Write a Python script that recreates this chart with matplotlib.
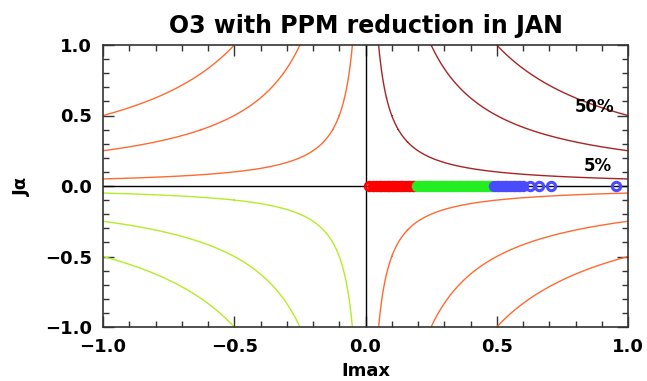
import numpy as np
import matplotlib
matplotlib.use("Agg")
import matplotlib.pyplot as plt
from matplotlib.ticker import MultipleLocator

title = "O3 with PPM reduction in JAN"
xlabel = "Imax"
ylabel = "J\u03b1"
levels = [0.05, 0.25, 0.5]
level_labels = ["5%", "50%"]
label_pos = [(0.886, 0.14), (0.874, 0.56)]

red_x = [0.012, 0.03, 0.04, 0.05, 0.06, 0.07, 0.08, 0.09, 0.10, 0.11, 0.12,
         0.13, 0.14, 0.15, 0.16, 0.17, 0.18, 0.185]
green_x = [0.195, 0.205, 0.215, 0.225, 0.235, 0.245, 0.255, 0.265, 0.275, 0.285,
           0.295, 0.305, 0.315, 0.325, 0.335, 0.345, 0.355, 0.365, 0.375, 0.385,
           0.395, 0.405, 0.415, 0.425, 0.435, 0.445, 0.455, 0.465, 0.475, 0.482]
blue_x = [0.49, 0.50, 0.51, 0.52, 0.53, 0.54, 0.55, 0.56, 0.57, 0.58, 0.59,
          0.60, 0.626, 0.66, 0.706, 0.954]

fig = plt.figure(figsize=(6.47, 3.81), dpi=100)
ax = fig.add_axes([103/647, 1-327/381, 525/647, 282/381])

g = np.linspace(-1, 1, 801)
X, Y = np.meshgrid(g, g)
Z = X * Y

def quad(mask):
    return np.ma.masked_where(~mask, Z)

neg = [-l for l in levels[::-1]]
ax.contour(X, Y, quad((X >= 0) & (Y >= 0)), levels=levels, colors="#a82424", linewidths=1.0, linestyles="solid")
ax.contour(X, Y, quad((X <= 0) & (Y >= 0)), levels=neg, colors="#ff6a30", linewidths=1.0, linestyles="solid")
ax.contour(X, Y, quad((X >= 0) & (Y <= 0)), levels=neg, colors="#ff6a30", linewidths=1.0, linestyles="solid")
ax.contour(X, Y, quad((X <= 0) & (Y <= 0)), levels=levels, colors="#b4ec28", linewidths=1.0, linestyles="solid")

ax.axhline(0, color="black", lw=1.0)
ax.axvline(0, color="black", lw=1.0)

for xs, c in [(red_x, "#ff0000"), (green_x, "#22ee22"), (blue_x, "#4a4aff")]:
    ax.plot(xs, [0]*len(xs), linestyle="none", marker="o", markersize=6.0,
            markerfacecolor="none", markeredgecolor=c, markeredgewidth=2.2)

for t, (px, py) in zip(level_labels, label_pos):
    ax.text(px, py, t, ha="center", va="center", fontsize=12, fontweight="bold", color="black")

ax.set_xlim(-1, 1)
ax.set_ylim(-1, 1)
ax.xaxis.set_major_locator(MultipleLocator(0.5))
ax.yaxis.set_major_locator(MultipleLocator(0.5))
ax.xaxis.set_minor_locator(MultipleLocator(0.1))
ax.yaxis.set_minor_locator(MultipleLocator(0.1))
fmt = plt.FuncFormatter(lambda v, p: f"{v:.1f}".replace("-", "\u2212"))
ax.xaxis.set_major_formatter(fmt)
ax.yaxis.set_major_formatter(fmt)
ax.tick_params(which="both", direction="in", top=True, right=True, labelsize=13, width=1.0, color="#333333")
ax.tick_params(which="major", length=8, pad=8)
ax.tick_params(which="minor", length=4)
for lab in ax.get_xticklabels() + ax.get_yticklabels():
    lab.set_fontweight("bold")
for s in ax.spines.values():
    s.set_color("#333333")
    s.set_linewidth(1.2)

ax.set_title(title, fontsize=17, pad=9, fontweight="bold")
ax.set_xlabel(xlabel, fontsize=13, labelpad=4, fontweight="bold")
ax.set_ylabel(ylabel, fontsize=13, labelpad=10, fontweight="bold")

fig.savefig("out.png", dpi=100)
